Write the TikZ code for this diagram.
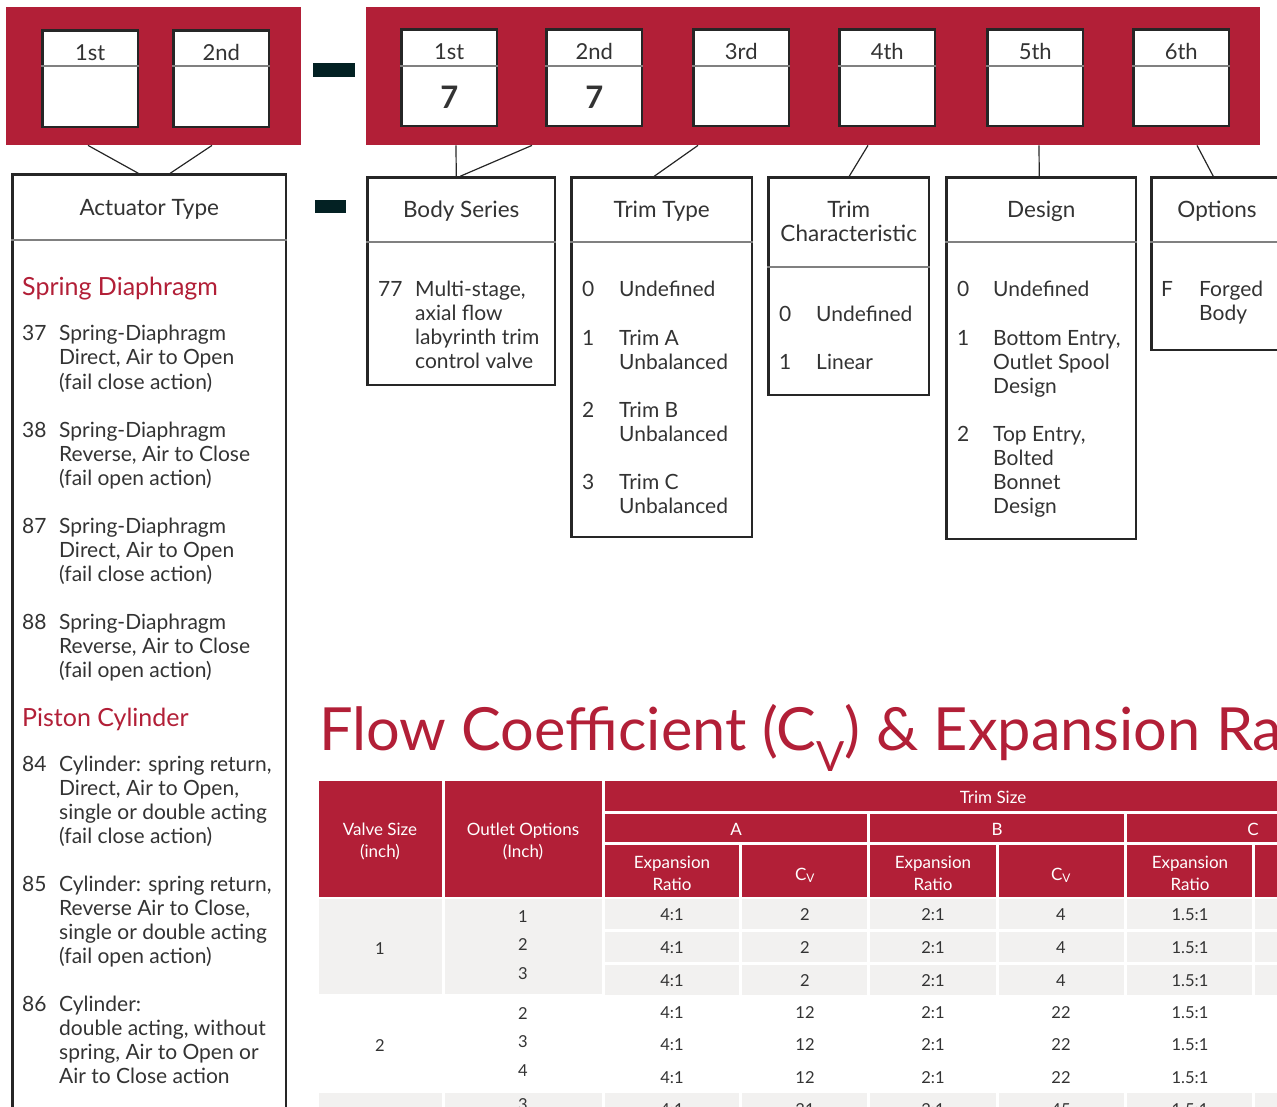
\documentclass[tikz,border=0pt]{standalone}
\usepackage{fontspec}
\setmainfont{Lato}
\usetikzlibrary{positioning,calc}
\definecolor{gered}{RGB}{178,31,55}
\definecolor{dashc}{RGB}{3,33,35}
\definecolor{ink}{RGB}{51,51,51}
\definecolor{rowgray}{RGB}{242,241,240}
\newcommand\itemtext[1]{\begin{tabular}[t]{@{}l@{}}#1\end{tabular}}

\begin{document}
\begin{tikzpicture}[x=1pt, y=-1pt,
  every node/.style={inner sep=0pt, text=ink},
  band/.style={fill=gered, anchor=north west},
  digit/.style={draw=black!85, line width=2.5pt, fill=white, anchor=north west,
    minimum width=95.5pt, minimum height=96.5pt},
  digitlab/.style={font=\fontsize{22}{26}\selectfont, anchor=base},
  digitval/.style={font=\bfseries\fontsize{31}{34}\selectfont, anchor=base},
  divider/.style={draw=black!50, line width=1.5pt},
  dashbar/.style={fill=dashc, anchor=north west},
  group/.style={draw=black!85, line width=2.5pt, anchor=north west},
  grouptitle/.style={font=\fontsize{22.5}{24}\selectfont, align=center, anchor=base},
  subhead/.style={font=\fontsize{25}{28}\selectfont, text=gered, anchor=base west},
  numlab/.style={font=\fontsize{21}{24}\selectfont, anchor=base west},
  item/.style={font=\fontsize{21}{24}\selectfont, anchor=base west},
  link/.style={draw=black!85, line width=1.2pt},
  hcell/.style={fill=gered},
  dcell/.style={fill=rowgray},
  hlab/.style={text=white, font=\fontsize{17}{22}\selectfont, align=center, anchor=base},
  dlab/.style={font=\fontsize{16.5}{28.5}\selectfont, align=center, anchor=base}
  ]
  \useasboundingbox (0,0) rectangle (1277,1107);
  \clip (0,0) rectangle (1277,1107);

  \node[band, minimum width=295pt, minimum height=138pt] (bandL) at (6,7) {};
  \node[band, minimum width=894pt, minimum height=138pt] (bandR) at (366,7) {};
  \foreach \x/\lab [count=\i] in {40/1st,171/2nd}{
    \node[digit] (dL\i) at (\x+1.25,29.25) {};
    \node[digitlab] at ($(dL\i.north)+(0,31)$) {\lab};
    \draw[divider] ($(dL\i.north west)+(0,37)$) -- ($(dL\i.north east)+(0,37)$);
  }
  \foreach \x/\lab/\val [count=\i] in {399/1st/7,544/2nd/7,691/3rd/,837/4th/,985/5th/,1131/6th/}{
    \node[digit] (dR\i) at (\x+1.25,28.25) {};
    \node[digitlab] at ($(dR\i.north)+(0,31)$) {\lab};
    \node[digitval] at ($(dR\i.north)+(0,80)$) {\val};
    \draw[divider] ($(dR\i.north west)+(0,38)$) -- ($(dR\i.north east)+(0,38)$);
  }
  \node[dashbar, minimum width=42pt, minimum height=14pt] (dash1) at (313,63) {};
  \node[dashbar, minimum width=31pt, minimum height=13pt] (dash2) at (315,200) {};

  \node[group, minimum width=273.5pt, minimum height=960pt] (act) at (11.25,173.25) {};
  \node[group, minimum width=187.5pt, minimum height=207.5pt] (bodyser) at (366.25,176.25) {};
  \node[group, minimum width=180.5pt, minimum height=359.5pt] (trimtype) at (570.25,176.25) {};
  \node[group, minimum width=160.5pt, minimum height=217.5pt] (trimchar) at (767.25,176.25) {};
  \node[group, minimum width=189.5pt, minimum height=361.5pt] (design) at (945.25,176.25) {};
  \node[group, minimum width=131pt, minimum height=172.5pt] (options) at (1150.25,176.25) {};

  \draw[divider] (act.west |- 0,240) -- (act.east |- 0,240);
  \foreach \g in {bodyser,trimtype,design,options}
    \draw[divider] (\g.west |- 0,242) -- (\g.east |- 0,242);
  \draw[divider] (trimchar.west |- 0,267) -- (trimchar.east |- 0,267);

  \node[grouptitle] at ($(act.north)+(0,42)$) {Actuator Type};
  \node[grouptitle] at ($(bodyser.north)+(0,41)$) {Body Series};
  \node[grouptitle] at ($(trimtype.north)+(0,41)$) {Trim Type};
  \node[grouptitle] at ($(trimchar.north)+(0,65)$) {Trim\\Characteristic};
  \node[grouptitle] at ($(design.north)+(0,41)$) {Design};
  \node[grouptitle] at ($(options.north)+(0,41)$) {Options};

  \draw[link] ([xshift=82pt]bandL.south west) -- ([xshift=127pt]act.north west);
  \draw[link] ([xshift=206pt]bandL.south west) -- ([xshift=159pt]act.north west);
  \draw[link] ([xshift=90pt]bandR.south west) -- ([xshift=90pt]bodyser.north west);
  \draw[link] ([xshift=166pt]bandR.south west) -- ([xshift=94pt]bodyser.north west);
  \draw[link] ([xshift=332pt]bandR.south west) -- ([xshift=84pt]trimtype.north west);
  \draw[link] ([xshift=502pt]bandR.south west) -- ([xshift=82pt]trimchar.north west);
  \draw[link] ([xshift=673pt]bandR.south west) -- ([xshift=94pt]design.north west);
  \draw[link] ([xshift=831pt]bandR.south west) -- ([xshift=63pt]options.north west);

  \node[subhead] at (22,296) {Spring Diaphragm};
  \foreach \n/\t/\y in {37/{Spring-Diaphragm\\Direct, Air to Open\\(fail close action)}/341,
    38/{Spring-Diaphragm\\Reverse, Air to Close\\(fail open action)}/437,
    87/{Spring-Diaphragm\\Direct, Air to Open\\(fail close action)}/533,
    88/{Spring-Diaphragm\\Reverse, Air to Close\\(fail open action)}/629}{
    \node[numlab] at (22,\y) {\n};
    \node[item] at (59,\y) {\itemtext{\t}};
  }
  \node[subhead] at (22,726) {Piston Cylinder};
  \foreach \n/\t/\y in {84/{Cylinder: spring return,\\Direct, Air to Open,\\single or double acting\\(fail close action)}/771,
    85/{Cylinder: spring return,\\Reverse Air to Close,\\single or double acting\\(fail open action)}/891,
    86/{Cylinder:\\double acting, without\\spring, Air to Open or\\Air to Close action}/1011}{
    \node[numlab] at (22,\y) {\n};
    \node[item] at (59,\y) {\itemtext{\t}};
  }

  \node[numlab] at (378,297) {77};
  \node[item] at (415,297) {\itemtext{Multi-stage,\\axial flow\\labyrinth trim\\control valve}};

  \foreach \n/\t/\y in {0/Undefined/297, 1/{Trim A\\Unbalanced}/345,
    2/{Trim B\\Unbalanced}/417, 3/{Trim C\\Unbalanced}/489}{
    \node[numlab] at (582,\y) {\n};
    \node[item] at (619,\y) {\itemtext{\t}};
  }
  \foreach \n/\t/\y in {0/Undefined/321, 1/Linear/369}{
    \node[numlab] at (779,\y) {\n};
    \node[item] at (816,\y) {\itemtext{\t}};
  }
  \foreach \n/\t/\y in {0/Undefined/297, 1/{Bottom Entry,\\Outlet Spool\\Design}/345,
    2/{Top Entry,\\Bolted\\Bonnet\\Design}/441}{
    \node[numlab] at (957,\y) {\n};
    \node[item] at (993,\y) {\itemtext{\t}};
  }
  \node[numlab] at (1161,297) {F};
  \node[item] at (1199,297) {\itemtext{Forged\\Body}};

  \node[anchor=base west, text=gered, font=\fontsize{59.5}{64}\selectfont] (title)
    at (319,750) {Flow Coefficient (C\textsubscript{V}) \& Expansion Ratio};

  \fill[hcell] (319,781) rectangle (442,897);
  \fill[hcell] (445,781) rectangle (602,897);
  \fill[hcell] (605,781) rectangle (1380,811);
  \foreach \xa/\xb in {605/867,870/1124,1127/1380}
    \fill[hcell] (\xa,814) rectangle (\xb,842);
  \foreach \xa/\xb in {605/739,742/867,870/996,999/1124,1127/1252,1255/1380}
    \fill[hcell] (\xa,845) rectangle (\xb,897);

  \node[hlab] at (380,857) {Valve Size\\(inch)};
  \node[hlab] at (523,857) {Outlet Options\\(Inch)};
  \node[hlab] at (993,803) {Trim Size};
  \foreach \x/\t in {736/A,997/B,1253/C}
    \node[hlab] at (\x,835) {\t};
  \foreach \x in {672,933,1190}
    \node[hlab] at (\x,890) {Expansion\\Ratio};
  \foreach \x in {805,1061}
    \node[hlab] at (\x,880) {C\textsubscript{V}};

  \foreach \y/\h in {899/95,1093/40}{
    \fill[dcell] (319,\y) rectangle (442,\y+\h);
    \fill[dcell] (445,\y) rectangle (602,\y+\h);
  }
  \foreach \y in {899,932,965,1093}
    \foreach \xa/\xb in {605/739,742/867,870/996,999/1124,1127/1252,1255/1380}
      \fill[dcell] (\xa,\y) rectangle (\xb,\y+30);

  \node[dlab] at (380,954) {1};
  \node[dlab] at (523,979) {1\\2\\3};
  \node[dlab] at (380,1051) {2};
  \node[dlab] at (523,1076) {2\\3\\4};
  \node[dlab] at (523,1110) {3};
  \foreach \y/\aer/\acv/\ber/\bcv/\cer in {920/4:1/2/2:1/4/1.5:1, 953/4:1/2/2:1/4/1.5:1,
    986/4:1/2/2:1/4/1.5:1, 1018/4:1/12/2:1/22/1.5:1, 1050/4:1/12/2:1/22/1.5:1,
    1083/4:1/12/2:1/22/1.5:1, 1115/4:1/31/2:1/45/1.5:1}{
    \node[dlab] at (672,\y) {\aer};
    \node[dlab] at (805,\y) {\acv};
    \node[dlab] at (933,\y) {\ber};
    \node[dlab] at (1061,\y) {\bcv};
    \node[dlab] at (1190,\y) {\cer};
  }
\end{tikzpicture}
\end{document}
